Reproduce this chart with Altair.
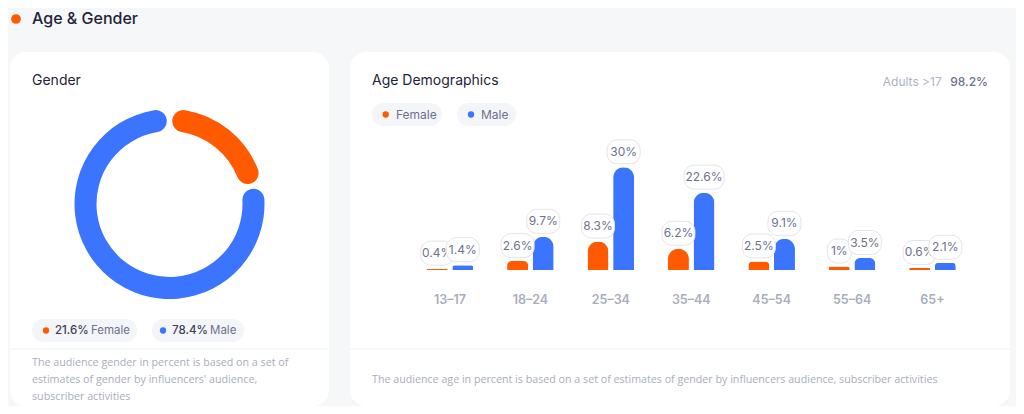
import altair as alt
import pandas as pd

# ---------------- data ----------------
ages = ["13–17", "18–24", "25–34", "35–44", "45–54", "55–64", "65+"]
female = [0.4, 2.6, 8.3, 6.2, 2.5, 1.0, 0.6]
male = [1.4, 9.7, 30.0, 22.6, 9.1, 3.5, 2.1]
genders = ["Female", "Male"]
gender_share = [21.6, 78.4]
adults_label = "Adults >17"
adults_share = 98.2

title = "Age & Gender"
gender_title = "Gender"
age_title = "Age Demographics"
gender_note = ["The audience gender in percent is based on a set of",
               "estimates of gender by influencers' audience,",
               "subscriber activities"]
age_note = ("The audience age in percent is based on a set of estimates of gender "
            "by influencers audience, subscriber activities")

# ---------------- styles ----------------
FONT = "Inter"
FOOT_FONT = "Open Sans"
ORANGE = "#ff5a00"
BLUE = "#3b74ff"
DARK = "#1f2338"
MID = "#6d7190"
LIGHT = "#a9adc1"
PILL = "#f4f5f8"


def fmt(v):
    return f"{v:g}%"


def width_class(lab):
    if len(lab) <= 2:
        return "s"
    if len(lab) <= 4:
        return "m"
    return "xl"


rows = []
for i, a in enumerate(ages):
    for g, vals in (("Female", female), ("Male", male)):
        lab = fmt(vals[i])
        rows.append({"age": a, "gender": g, "value": vals[i], "label": lab,
                     "w": width_class(lab)})
bars_df = pd.DataFrame(rows)
donut_df = pd.DataFrame({"gender": genders, "pct": gender_share, "ord": [0, 1]})
age_df = pd.DataFrame({"age": ages})
one = pd.DataFrame({"a": [0]})

color_scale = alt.Scale(domain=genders, range=[ORANGE, BLUE])
color_enc = alt.Color("gender:N", scale=color_scale, legend=None)
xscale = alt.Scale(domain=ages, range=[401.8, 964.7], paddingInner=0, paddingOuter=0)
xoff_scale = alt.Scale(domain=genders, paddingInner=0.18, paddingOuter=0.66)
yscale = alt.Scale(domain=[0, 30], range=[262, 159.3], nice=False, zero=True)

X = alt.X("age:N", sort=ages, scale=xscale, axis=None)
XO = alt.XOffset("gender:N", sort=genders, scale=xoff_scale)
Y = alt.Y("value:Q", scale=yscale, axis=None)


def pill_path(w, h=0.24, r=0.2):
    # rounded rectangle in the unit symbol box (1 unit = sqrt(size)/2 px)
    return (f"M{-(w - r)},{-h} L{w - r},{-h} A{r},{r} 0 0 1 {w},{-(h - r)} "
            f"L{w},{h - r} A{r},{r} 0 0 1 {w - r},{h} "
            f"L{-(w - r)},{h} A{r},{r} 0 0 1 {-w},{h - r} "
            f"L{-w},{-(h - r)} A{r},{r} 0 0 1 {-(w - r)},{-h} Z")


shape_scale = alt.Scale(domain=["s", "m", "xl"],
                        range=[pill_path(0.24), pill_path(0.33), pill_path(0.40)])


def rect(x, x2, y, y2, fill, r):
    return alt.Chart(one).mark_rect(fill=fill, cornerRadius=r).encode(
        x=alt.value(x), x2=alt.value(x2), y=alt.value(y), y2=alt.value(y2))


def rule(x, x2, y, color="#eef0f3"):
    return alt.Chart(one).mark_rule(color=color, strokeWidth=1).encode(
        x=alt.value(x), x2=alt.value(x2), y=alt.value(y))


def txt(s, x, y, size, color, weight=400, align="left", font=FONT):
    return alt.Chart(one).mark_text(text=s, fontSize=size, color=color, fontWeight=weight,
                                    align=align, baseline="middle", font=font).encode(
        x=alt.value(x), y=alt.value(y))


def dot(g, x, y, size=40):
    return alt.Chart(pd.DataFrame({"gender": [g]})).mark_circle(size=size, opacity=1).encode(
        x=alt.value(x), y=alt.value(y), color=color_enc)


layers = []
# cards
layers += [rect(2, 321, 44, 398, "white", 16), rect(342, 1002, 44, 398, "white", 16)]
layers += [rule(2, 321, 341), rule(342, 1002, 341)]

# header
layers += [dot("Female", 8, 11, 95), txt(title, 24, 11, 16, DARK, 500)]

# gender card
layers += [txt(gender_title, 24, 73, 14, DARK, 400)]
donut = alt.Chart(donut_df).mark_arc(innerRadius=73, outerRadius=95, cornerRadius=11,
                                     padAngle=0.045).encode(
    theta=alt.Theta("pct:Q", stack=True), color=color_enc, order=alt.Order("ord:Q"),
    x=alt.value(161.5), y=alt.value(196))
layers += [donut]
layers += [rect(24, 129, 311, 334, PILL, 11.5), rect(144, 236, 311, 334, PILL, 11.5)]
layers += [dot("Female", 38, 322.5), txt(fmt(gender_share[0]), 47, 322.5, 11.5, "#3c3f55", 500),
           txt(genders[0], 83, 322.5, 11.5, MID)]
layers += [dot("Male", 155, 322.5), txt(fmt(gender_share[1]), 164, 322.5, 11.5, "#3c3f55", 500),
           txt(genders[1], 202, 322.5, 11.5, MID)]
for i, line in enumerate(gender_note):
    layers.append(txt(line, 24, 355 + 17 * i, 10.7, LIGHT, 400, font=FOOT_FONT))

# age card
layers += [txt(age_title, 364, 73, 14, DARK, 400)]
layers += [txt(adults_label, 933.7, 74, 12, "#aeb2c4", 400, "right"),
           txt(fmt(adults_share), 980, 74, 12, MID, 500, "right")]
layers += [rect(364, 434, 95, 118, PILL, 11.5), rect(449, 508, 95, 118, PILL, 11.5)]
layers += [dot("Female", 377.7, 106.5), txt(genders[0], 388, 106.5, 12, MID),
           dot("Male", 463, 106.5), txt(genders[1], 473, 106.5, 12, MID)]
layers.append(txt(age_note, 364, 372, 10.7, LIGHT, 400, font=FOOT_FONT))

base_bars = alt.Chart(bars_df)
layers.append(base_bars.transform_filter(alt.datum.value >= 1).mark_bar(
    cornerRadiusTopLeft=10.5, cornerRadiusTopRight=10.5).encode(
    x=X, xOffset=XO, y=Y, color=color_enc))
layers.append(base_bars.transform_filter(alt.datum.value < 1).mark_bar(
    cornerRadiusTopLeft=1, cornerRadiusTopRight=1).encode(
    x=X, xOffset=XO, y=Y, color=color_enc))

for g in genders:
    sub = alt.Chart(bars_df).transform_filter(alt.datum.gender == g)
    layers.append(sub.mark_point(filled=True, fill="white", stroke="#e3e4ea", strokeWidth=1,
                                 opacity=1, size=10000, yOffset=-15.5).encode(
        x=X, xOffset=XO, y=Y, shape=alt.Shape("w:N", scale=shape_scale, legend=None)))
    layers.append(sub.mark_text(yOffset=-15.5, fontSize=12, color=MID, font=FONT,
                                baseline="middle").encode(
        x=X, xOffset=XO, y=Y, text="label:N"))

layers.append(alt.Chart(age_df).mark_text(fontSize=12.5, fontWeight=600, color="#a9adc0",
                                          font=FONT, baseline="middle").encode(
    x=X, y=alt.value(292), text="age:N"))

chart = alt.layer(*layers).properties(
    width=1008, height=398, padding=0, autosize="none", background="#f6f7f9"
).configure_view(stroke=None)

chart.save("out.html", embed_options={"renderer": "svg", "actions": False})
